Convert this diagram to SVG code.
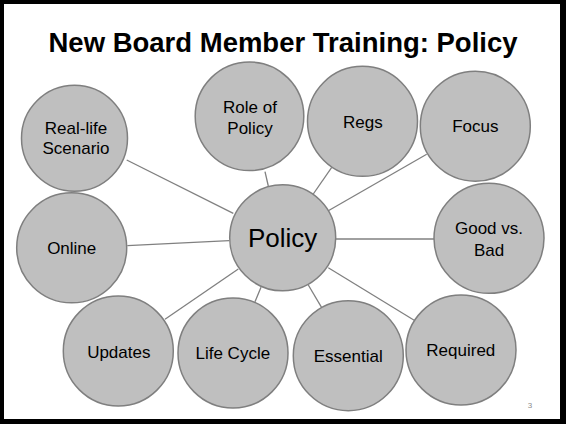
<svg xmlns="http://www.w3.org/2000/svg" width="566" height="424" viewBox="0 0 566 424">
<style>
.n circle{fill:#bfbfbf;stroke:#7f7f7f;stroke-width:1.5}
.n text{font-family:"Liberation Sans",Arial,sans-serif;font-size:17px;fill:#000;text-anchor:middle}
#edges line{stroke:#808080;stroke-width:1.3}
.title{font-family:"Liberation Sans",Arial,sans-serif;font-weight:bold;font-size:28px;text-anchor:middle;fill:#000}
</style>
<rect x="0" y="0" width="566" height="424" fill="#000"/>
<rect x="4" y="4" width="556" height="415" fill="#fff"/>
<text class="title" x="283" y="52" textLength="469" lengthAdjust="spacingAndGlyphs">New Board Member Training: Policy</text>
<g id="edges">
<line x1="126.7" y1="160" x2="233.3" y2="213.3"/>
<line x1="265" y1="171.7" x2="268.3" y2="186"/>
<line x1="331.7" y1="167.3" x2="313.3" y2="194"/>
<line x1="426.7" y1="154.3" x2="328.3" y2="210.7"/>
<line x1="127.3" y1="245.7" x2="229.3" y2="240.7"/>
<line x1="335" y1="239" x2="434" y2="239"/>
<line x1="165" y1="319.3" x2="238.3" y2="269"/>
<line x1="255" y1="301.7" x2="261" y2="287.3"/>
<line x1="321.7" y1="307.7" x2="308.3" y2="285"/>
<line x1="415" y1="320.7" x2="328.3" y2="267.7"/>
</g>
<g id="realife" class="n"><circle cx="74.5" cy="138.3" r="53"/><text x="76" y="134">Real-life</text><text x="76" y="154">Scenario</text></g>
<g id="role" class="n"><circle cx="249.5" cy="116.3" r="54.3"/><text x="250" y="113.3">Role of</text><text x="250" y="134">Policy</text></g>
<g id="regs" class="n"><circle cx="362.5" cy="121.3" r="55"/><text x="362.8" y="128.3">Regs</text></g>
<g id="focus" class="n"><circle cx="475.3" cy="126.2" r="55"/><text x="475.3" y="131.7">Focus</text></g>
<g id="online" class="n"><circle cx="71.7" cy="247.8" r="55"/><text x="71.7" y="254">Online</text></g>
<g id="policy" class="n"><circle cx="282.7" cy="237.8" r="53"/><text x="282.7" y="247.3" style="font-size:26px">Policy</text></g>
<g id="goodbad" class="n"><circle cx="489" cy="238.3" r="55"/><text x="489" y="234.3">Good vs.</text><text x="489" y="256">Bad</text></g>
<g id="updates" class="n"><circle cx="118.3" cy="351" r="55"/><text x="118.8" y="358.3">Updates</text></g>
<g id="lifecycle" class="n"><circle cx="233" cy="353" r="55"/><text x="232.8" y="359.3">Life Cycle</text></g>
<g id="essential" class="n"><circle cx="348.3" cy="355.7" r="55"/><text x="348.2" y="361.7">Essential</text></g>
<g id="required" class="n"><circle cx="461" cy="350" r="55"/><text x="460.8" y="356">Required</text></g>
<text x="530" y="408" style="font-family:'Liberation Sans',Arial,sans-serif;font-size:8px;fill:#8c8c8c;text-anchor:middle">3</text>
</svg>
